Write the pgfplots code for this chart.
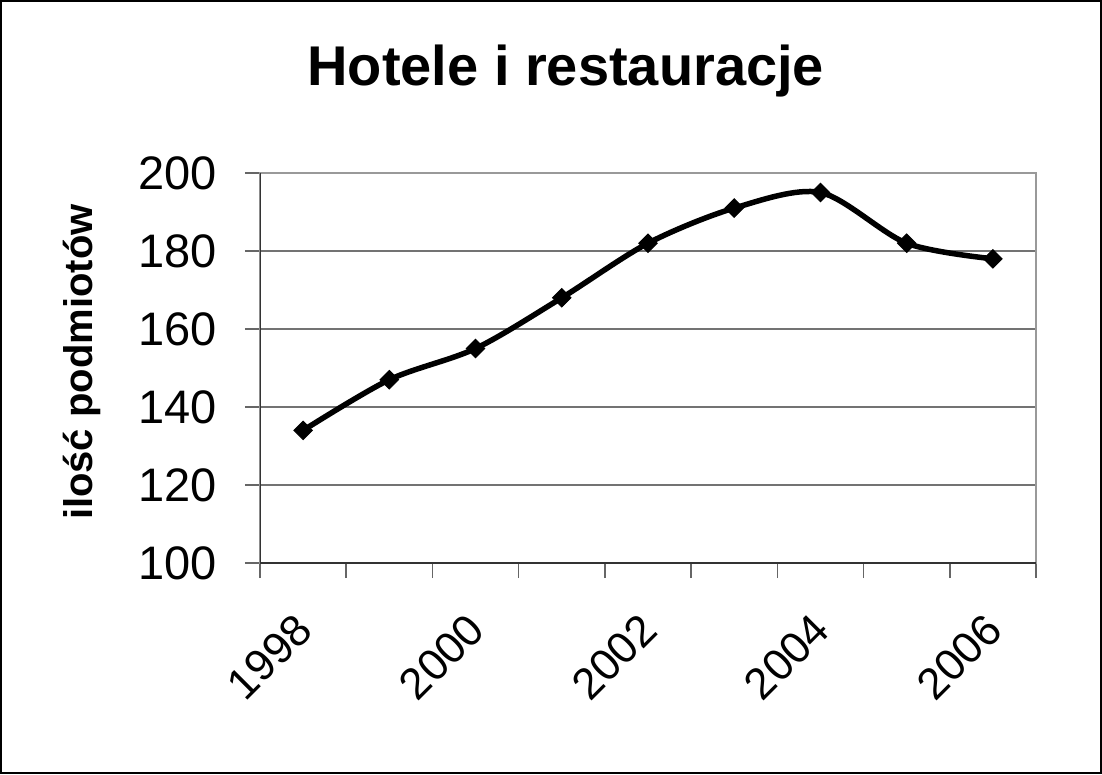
\documentclass[border=0pt]{standalone}
\usepackage{fontspec}
\setmainfont{Liberation Sans}
\usepackage{pgfplots}
\pgfplotsset{compat=1.18}
\begin{document}
\begin{tikzpicture}
\begin{axis}[
  scale only axis, width=776pt, height=390pt,
  xmin=-0.5, xmax=8.5, ymin=100, ymax=200,
  ytick={100,120,...,200},
  xtick={0,2,4,6,8},
  xticklabels={1998,2000,2002,2004,2006},
  minor xtick={-0.5,0.5,...,8.5},
  tick align=outside, tick pos=left,
  major tick length=15pt, minor tick length=15pt,
  major x tick style={draw=none},
  tick style={black!60, line width=1.5pt},
  ymajorgrids, major grid style={black!55, line width=1.5pt},
  axis line style={black!40, line width=2pt},
  /pgf/number format/assume math mode=true,
  ticklabel style={font=\fontsize{47}{47}\selectfont, inner sep=0pt},
  yticklabel style={anchor=east, xshift=-28pt},
  xticklabel style={xshift=1pt, yshift=-44pt, rotate=45, anchor=east, font=\fontsize{44}{44}\selectfont},
  title={Hotele i restauracje},
  title style={font=\bfseries\fontsize{56}{56}\selectfont, at={(axis description cs:0.394,1.2077)}, anchor=base},
  ylabel={ilość podmiotów},
  ylabel style={font=\bfseries\fontsize{40}{40}\selectfont, at={(axis description cs:-0.2294,0.515)}, anchor=center},
]
\addplot[black, line width=5.5pt, smooth, tension=0.5, mark=square*, mark size=6.5pt,
  mark options={rotate=45, line width=1pt}]
  coordinates {(0,134) (1,147) (2,155) (3,168) (4,182) (5,191) (6,195) (7,182) (8,178)};
\draw[black!80, line width=2pt] (rel axis cs:0,1) -- (rel axis cs:0,0) -- (rel axis cs:1,0);
\end{axis}
\draw[line width=2pt] (-259pt,-210pt) rectangle (841pt,562pt);
\end{tikzpicture}
\end{document}
